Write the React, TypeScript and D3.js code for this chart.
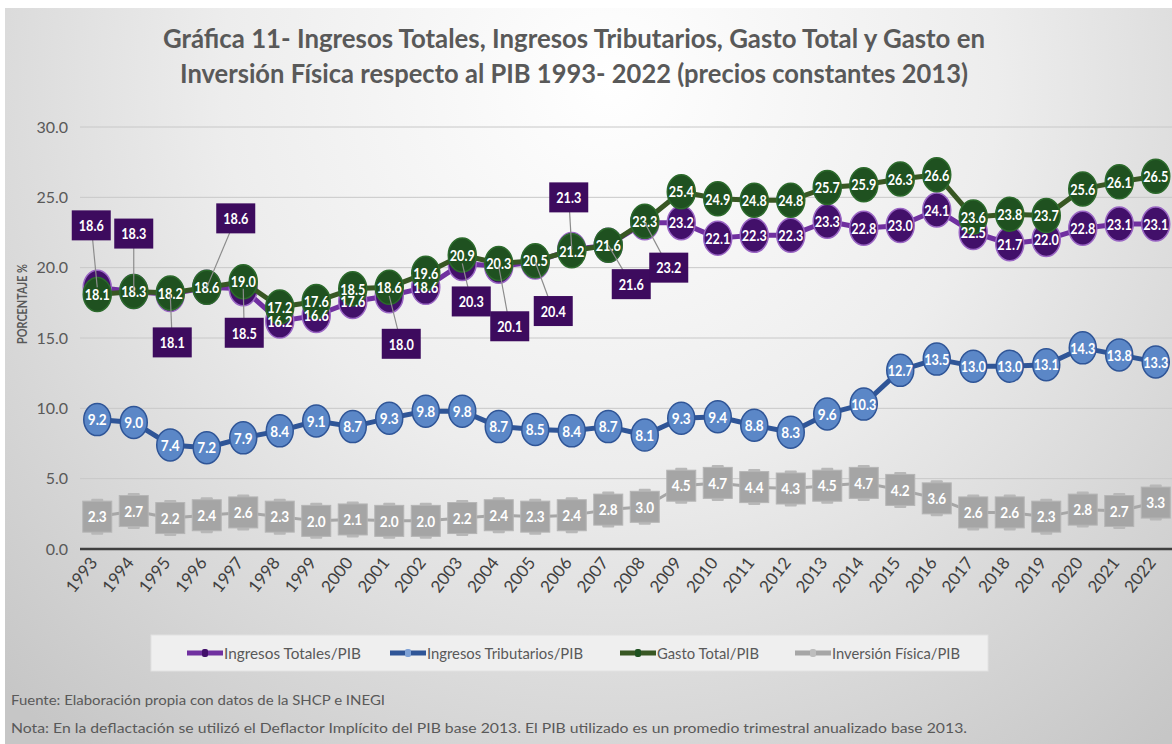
import React from 'react';
import * as d3 from 'd3';

const years = ['1993','1994','1995','1996','1997','1998','1999','2000','2001','2002','2003','2004','2005','2006','2007','2008','2009','2010','2011','2012','2013','2014','2015','2016','2017','2018','2019','2020','2021','2022'];
const ingresosTotales = [18.6,18.3,18.1,18.6,18.5,16.2,16.6,17.6,18.0,18.6,20.3,20.1,20.4,21.3,21.6,23.2,23.2,22.1,22.3,22.3,23.3,22.8,23.0,24.1,22.5,21.7,22.0,22.8,23.1,23.1];
const ingresosTributarios = [9.2,9.0,7.4,7.2,7.9,8.4,9.1,8.7,9.3,9.8,9.8,8.7,8.5,8.4,8.7,8.1,9.3,9.4,8.8,8.3,9.6,10.3,12.7,13.5,13.0,13.0,13.1,14.3,13.8,13.3];
const gastoTotal = [18.1,18.3,18.2,18.6,19.0,17.2,17.6,18.5,18.6,19.6,20.9,20.3,20.5,21.2,21.6,23.3,25.4,24.9,24.8,24.8,25.7,25.9,26.3,26.6,23.6,23.8,23.7,25.6,26.1,26.5];
const inversionFisica = [2.3,2.7,2.2,2.4,2.6,2.3,2.0,2.1,2.0,2.0,2.2,2.4,2.3,2.4,2.8,3.0,4.5,4.7,4.4,4.3,4.5,4.7,4.2,3.6,2.6,2.6,2.3,2.8,2.7,3.3];
const yTicks = [0,5,10,15,20,25,30];
const seriesNames = ['Ingresos Totales/PIB','Ingresos Tributarios/PIB','Gasto Total/PIB','Inversión Física/PIB'];

const titleLines = [
  'Gráfica 11- Ingresos Totales, Ingresos Tributarios, Gasto Total y Gasto en',
  'Inversión Física respecto al PIB 1993- 2022 (precios constantes 2013)',
];
const footnotes = [
  'Fuente: Elaboración propia con datos de la SHCP e INEGI',
  'Nota: En la deflactación se utilizó el Deflactor Implícito del PIB base 2013. El PIB utilizado es un promedio trimestral anualizado base 2013.',
];

// label offsets (px) for the callout labels of Ingresos Totales
const calloutOffsets: Record<string, [number, number]> = {
  '1993': [-6, -62], '1994': [0, -58], '1995': [2, 48], '1996': [29, -69], '1997': [1, 44],
  '2001': [12, 48], '2003': [9, 38], '2004': [11, 60], '2005': [18, 49], '2006': [-3, -52],
  '2007': [23, 39], '2008': [24, 45],
};

const FONT = "Lato,'Open Sans',sans-serif";
const GRAY_TXT = '#595959';

export default function App() {
  const x = d3.scaleBand<string>().domain(years).range([79, 1174]).padding(0);
  const cx = (yr: string) => (x(yr) as number) + x.bandwidth() / 2;
  const y = d3.scaleLinear().domain([0, 30]).range([549, 127]);
  const line = d3.line<number>().x((_, i) => cx(years[i])).y((d) => y(d));

  const fmt = d3.format('.1f');
  const labelW = (s: string) => (s.length >= 4 ? 25 : 19);

  const series = [
    { key: 'it', data: ingresosTotales, stroke: '#7030a0', fill: '#42106a', mstroke: '#9a66c4', shape: 'ellipse' },
    { key: 'itr', data: ingresosTributarios, stroke: '#2f5597', fill: '#5b87c7', mstroke: '#2f5597', shape: 'ellipse' },
    { key: 'gt', data: gastoTotal, stroke: '#385723', fill: '#1f5120', mstroke: '#2c6a2c', shape: 'ellipse' },
    { key: 'if', data: inversionFisica, stroke: '#a6a6a6', fill: '#a5a5a5', mstroke: '#b5b5b5', shape: 'rect' },
  ];

  const legendItems = [
    { name: seriesNames[0], color: '#7030a0', dot: '#42106a', x: 187, tw: 137 },
    { name: seriesNames[1], color: '#2f5597', dot: '#7ea1d6', x: 390, tw: 156 },
    { name: seriesNames[2], color: '#385723', dot: '#1f5120', x: 620, tw: 102 },
    { name: seriesNames[3], color: '#a6a6a6', dot: '#bdbdbd', x: 795, tw: 128 },
  ];

  return (
    <>
      <style>{`html,body{margin:0;padding:0;overflow:hidden;background:#fff}`}</style>
      <svg width={1172} height={744} style={{ display: 'block' }} fontFamily={FONT}>
        <defs>
          <radialGradient id="bg" gradientUnits="userSpaceOnUse" cx={610} cy={80} r={860}>
            <stop offset="0" stopColor="#ffffff" />
            <stop offset="0.45" stopColor="#ededed" />
            <stop offset="1" stopColor="#c6c6c6" />
          </radialGradient>
        </defs>
        <rect width={1172} height={744} fill="#ffffff" />
        <rect x={5} y={8} width={1167} height={736} fill="url(#bg)" />

        {/* title */}
        {titleLines.map((t, i) => (
          <text key={i} x={574} y={48 + i * 35} textAnchor="middle" fontSize={27} fontWeight="bold" fill={GRAY_TXT}
            textLength={i === 0 ? 822 : 788} lengthAdjust="spacingAndGlyphs">{t}</text>
        ))}

        {/* grid + y axis labels */}
        {yTicks.map((t) => (
          <g key={t}>
            {t > 0 && <line x1={80} x2={1172} y1={y(t)} y2={y(t)} stroke="#c8c8c8" strokeWidth={1} />}
            <text x={68} y={y(t)} dy="0.35em" textAnchor="end" fontSize={16} fill={GRAY_TXT}>{fmt(t)}</text>
          </g>
        ))}
        <line x1={80} x2={1172} y1={y(0)} y2={y(0)} stroke="#3f3f3f" strokeWidth={2.5} />
        <text transform={`translate(22,304) rotate(-90)`} textAnchor="middle" dy="0.35em" fontSize={14} fontWeight="bold"
          fill={GRAY_TXT} textLength={80} lengthAdjust="spacingAndGlyphs">PORCENTAJE %</text>

        {/* x labels */}
        {years.map((yr) => (
          <text key={yr} transform={`translate(${cx(yr) + 1},${563}) rotate(-52)`} textAnchor="end" fontSize={17}
            fill="#404040">{yr}</text>
        ))}

        {/* series lines + markers */}
        {series.map((s) => (
          <g key={s.key}>
            <path d={line(s.data) as string} fill="none" stroke={s.stroke} strokeWidth={s.shape === 'rect' ? 3 : 5}
              strokeLinejoin="round" />
            {s.data.map((v, i) => {
              const px = cx(years[i]);
              const py = y(v);
              if (s.shape === 'rect') {
                return (
                  <g key={i}>
                    <rect x={px - 6} y={py - 18} width={12} height={3} rx={1} fill="#b8b8b8" />
                    <rect x={px - 6} y={py + 15} width={12} height={3} rx={1} fill="#b8b8b8" />
                    <rect x={px - 14.5} y={py - 15.5} width={29} height={31} fill={s.fill} stroke={s.mstroke} strokeWidth={1} />
                  </g>
                );
              }
              const rx = s.key === 'itr' ? 13.5 : 14;
              const ry = s.key === 'itr' ? 16 : 17;
              return <ellipse key={i} cx={px} cy={py} rx={rx} ry={ry} fill={s.fill} stroke={s.mstroke} strokeWidth={1.5} />;
            })}
          </g>
        ))}

        {/* inline data labels */}
        {series.map((s) => (
          <g key={'l' + s.key}>
            {s.data.map((v, i) => {
              if (s.key === 'it' && calloutOffsets[years[i]]) return null;
              const str = fmt(v);
              return (
                <text key={i} x={cx(years[i])} y={y(v)} dy="0.36em" textAnchor="middle" fontSize={16} fontWeight="bold"
                  fill="#ffffff" textLength={labelW(str)} lengthAdjust="spacingAndGlyphs">{str}</text>
              );
            })}
          </g>
        ))}

        {/* callouts */}
        {ingresosTotales.map((v, i) => {
          const off = calloutOffsets[years[i]];
          if (!off) return null;
          const px = cx(years[i]);
          const py = y(v);
          const bx = px + off[0];
          const by = py + off[1];
          const str = fmt(v);
          return (
            <g key={'c' + i}>
              <line x1={px} y1={py} x2={bx} y2={by} stroke="#8c8c8c" strokeWidth={1.2} />
              <rect x={bx - 19.5} y={by - 15} width={39} height={30} fill="#3d0b5e" />
              <text x={bx} y={by} dy="0.36em" textAnchor="middle" fontSize={16} fontWeight="bold" fill="#ffffff"
                textLength={labelW(str)} lengthAdjust="spacingAndGlyphs">{str}</text>
            </g>
          );
        })}

        {/* legend */}
        <rect x={151} y={635} width={837} height={36} fill="#efefef" stroke="#e2e2e2" strokeWidth={1} />
        {legendItems.map((l) => (
          <g key={l.name}>
            <line x1={l.x} x2={l.x + 36} y1={653} y2={653} stroke={l.color} strokeWidth={5} />
            <rect x={l.x + 15} y={649} width={6} height={8} rx={2} fill={l.dot} />
            <text x={l.x + 37} y={653} dy="0.35em" fontSize={16} fill={GRAY_TXT} textLength={l.tw}
              lengthAdjust="spacingAndGlyphs">{l.name}</text>
          </g>
        ))}

        {/* footnotes */}
        {footnotes.map((f, i) => (
          <text key={i} x={11} y={700 + i * 28} dy="0.35em" fontSize={14} fill={GRAY_TXT}
            textLength={i === 0 ? 374 : 956} lengthAdjust="spacingAndGlyphs">{f}</text>
        ))}
      </svg>
    </>
  );
}
